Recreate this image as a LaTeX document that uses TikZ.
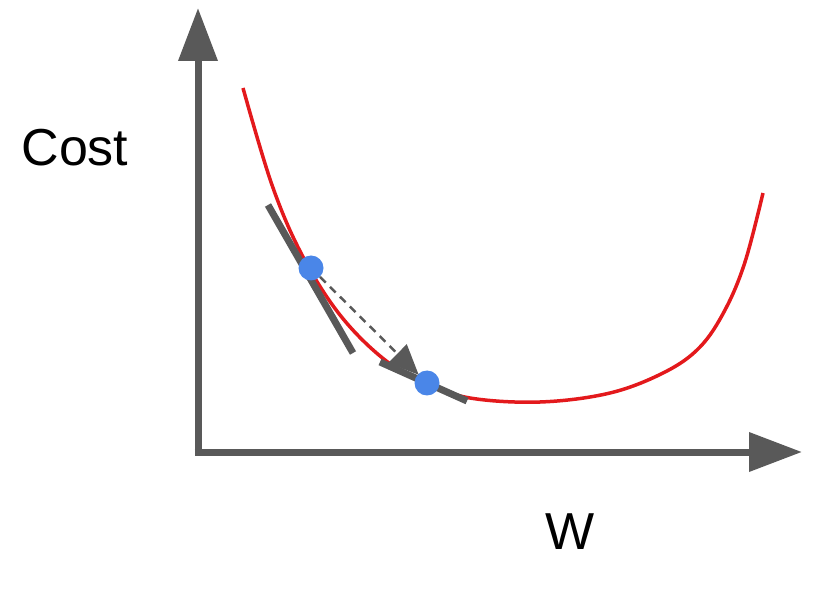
\documentclass[tikz,border=0pt]{standalone}
\usepackage{fontspec}
\setmainfont{Liberation Sans}
\usetikzlibrary{positioning,arrows.meta}

\definecolor{axisgray}{HTML}{595959}
\definecolor{costred}{HTML}{E3191C}
\definecolor{dotblue}{HTML}{4A86E8}

\begin{document}
\begin{tikzpicture}[
x=1pt, y=-1pt,
axis/.style={-{Triangle[length=53pt, width=38pt]}, line width=7pt, axisgray},
tangent/.style={line width=7pt, axisgray},
curve/.style={line width=3.5pt, costred},
dot/.style={circle, fill=dotblue, inner sep=0pt, minimum size=25pt},
stepline/.style={-{Triangle[length=30pt, width=26pt]}, line width=2.5pt, axisgray, dash pattern=on 8pt off 6pt},
label/.style={font=\fontsize{52}{60}\selectfont, text=black}
]
\useasboundingbox (0,0) rectangle (838,593);

% axes
\coordinate (origin) at (198,452);
\coordinate (ytip) at (198,8);
\coordinate (xtip) at (802,452);
\draw[axis] ([yshift=3.5pt]origin) -- (ytip);
\draw[axis] ([xshift=-3.5pt]origin) -- (xtip);

\node[label] (cost) at (75,148) {Cost};
\node[label] (w) at (570,532) {W};

% cost curve
\draw[curve] plot[smooth, tension=0.6] coordinates {
  (243,88) (272,185) (302,255) (340,315) (385,360) (427,383)
  (470,398) (540,402) (610,393) (665,372) (700,347) (725,310)
  (745,262) (763,193)};

% tangents
\coordinate (t1a) at (268,205);
\coordinate (t1b) at (353,353);
\coordinate (t2a) at (380,362);
\coordinate (t2b) at (467,401);
\draw[tangent] (t1a) -- (t1b);
\draw[tangent] (t2a) -- (t2b);

% steps
\node[dot] (p1) at (311,268) {};
\node[dot] (p2) at (427,383) {};
\draw[stepline, shorten >=-1pt] (p1) -- (p2);
\end{tikzpicture}
\end{document}
